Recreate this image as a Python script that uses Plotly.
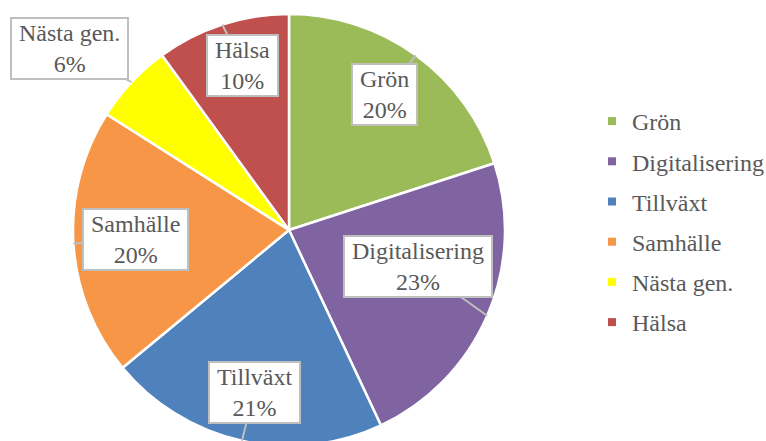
import math
import plotly.graph_objects as go

categories = ["Grön", "Digitalisering", "Tillväxt", "Samhälle", "Nästa gen.", "Hälsa"]
values = [20, 23, 21, 20, 6, 10]
colors = ["#9BBB59", "#8064A2", "#4F81BD", "#F79646", "#FFFF00", "#C0504D"]

# label box placement: radial fraction and angular shift (deg) from slice middle
label_r = [0.77, 0.62, 0.77, 0.71, 1.32, 0.79]
label_dang = [-0.8, -7.7, -0.5, 0.2, -3.6, 2.3]

FONT = "Liberation Serif, Times New Roman, Tinos, DejaVu Serif, serif"
# figure slightly larger than the 766x441 window; the excess is hidden (pie is cut at the bottom)
W, H = 790, 452
cx, cy, R = 289, 230, 216

fig = go.Figure()
fig.add_trace(go.Pie(
    labels=categories, values=values, sort=False, direction="clockwise",
    rotation=0, marker=dict(colors=colors, line=dict(color="white", width=2.5)),
    textinfo="none", hoverinfo="label+percent", showlegend=False,
    domain=dict(x=[(cx - R) / W, (cx + R) / W],
                y=[max(0, 1 - (cy + R) / H), 1 - (cy - R) / H]),
))

# legend via dummy traces
for name, col in zip(categories, colors):
    fig.add_trace(go.Scatter(
        x=[None], y=[None], mode="markers", name=name, legendgroup=name,
        marker=dict(symbol="square", size=8, color=col),
    ))

total = sum(values)
cum = 0
annotations = []
NB = "\u00a0"
for name, v, rf, da in zip(categories, values, label_r, label_dang):
    mid = (cum + v / 2) / total * 2 * math.pi
    cum += v
    sx, sy = math.sin(mid), -math.cos(mid)
    tipx, tipy = cx + R * sx, cy + R * sy
    lab = mid + math.radians(da)
    bx, by = cx + R * rf * math.sin(lab), cy - R * rf * math.cos(lab)
    pct = round(v / total * 100)
    annotations.append(dict(
        x=tipx / W, y=1 - tipy / H, xref="paper", yref="paper",
        ax=bx - tipx, ay=by - tipy, axref="pixel", ayref="pixel",
        text=f"{NB}{name}{NB}<br>{pct}%", showarrow=True, arrowhead=0,
        arrowwidth=2, arrowcolor="#BFBFBF", standoff=0, startstandoff=0,
        bgcolor="white", bordercolor="#BFBFBF", borderwidth=2, borderpad=1,
        font=dict(family=FONT, size=24, color="#595959"),
        align="center",
    ))

fig.update_layout(
    width=W, height=H, margin=dict(l=0, r=0, t=0, b=0),
    paper_bgcolor="white", plot_bgcolor="white",
    xaxis=dict(visible=False), yaxis=dict(visible=False),
    showlegend=True,
    legend=dict(x=592 / W, y=1 - 222 / H, xanchor="left", yanchor="middle",
                tracegroupgap=6,
                font=dict(family=FONT, size=24, color="#595959"),
                bgcolor="rgba(0,0,0,0)"),
    annotations=annotations,
)

fig.write_html(
    "out.html",
    config={"displayModeBar": False},
    post_script="document.body.style.margin='0';document.body.style.overflow='hidden';",
)
